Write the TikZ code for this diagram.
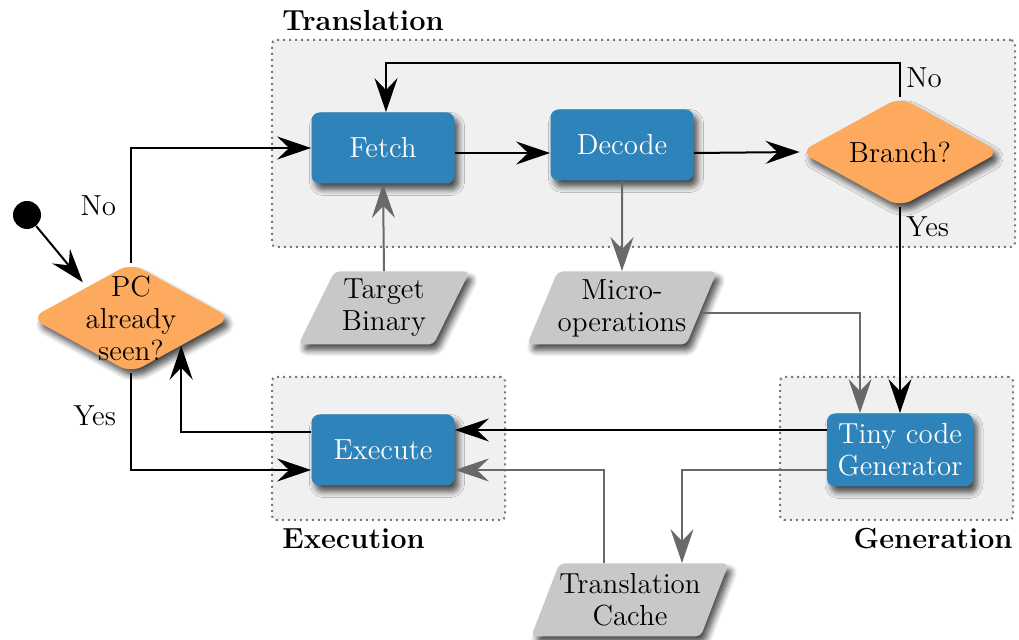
\documentclass[tikz,border=0pt]{standalone}
\usetikzlibrary{shapes.geometric,arrows.meta,shadows.blur}
\newlength\px \setlength\px{0.5pt}
\definecolor{procblue}{RGB}{46,131,186}
\definecolor{decorange}{RGB}{253,170,95}
\definecolor{datagray}{RGB}{200,200,200}
\definecolor{groupfill}{RGB}{240,240,240}
\definecolor{groupline}{RGB}{120,120,120}
\definecolor{garrow}{RGB}{105,105,105}
\tikzset{
  shad/.style={blur shadow={shadow xshift=4\px, shadow yshift=-6\px, shadow blur radius=6\px, shadow blur steps=6, shadow opacity=70}},
  proc/.style={shape=rectangle, rounded corners=8\px, fill=procblue, text=white, align=center,
     minimum width=143\px, minimum height=71\px, inner sep=0pt, shad},
  dec/.style={shape=diamond, aspect=2, rounded corners=13\px, fill=decorange, inner sep=0pt,
     minimum width=200\px, minimum height=110\px, shad},
  dat/.style={shape=trapezium, trapezium left angle=62, trapezium right angle=118, trapezium stretches=true,
     rounded corners=5\px, fill=datagray, align=center, inner sep=0pt, minimum height=73\px, shad},
  grp/.style={shape=rectangle, draw=groupline, dotted, line width=1pt, fill=groupfill, rounded corners=4\px, inner sep=0pt},
  glabel/.style={font=\fontsize{14.5}{16}\selectfont\bfseries, inner sep=0pt},
  tip/.style={-{Stealth[length=17pt, width=11.5pt, inset=6pt]}},
  arr/.style={draw=black, line width=1pt, tip},
  garr/.style={draw=garrow, line width=1pt, tip},
  lbl/.style={inner sep=0pt}
}
\begin{document}
\begin{tikzpicture}[x=0.5pt, y=-0.5pt, font=\fontsize{14.5}{16}\selectfont]
\useasboundingbox (0,0) rectangle (1019,640);

% group boxes
\node[grp, minimum width=743\px, minimum height=207\px] (gtrans) at (643.5,143.5) {};
\node[grp, minimum width=233\px, minimum height=143\px] (gexec) at (388.5,448.5) {};
\node[grp, minimum width=233\px, minimum height=143\px] (ggen) at (896.5,448.5) {};
\node[glabel, anchor=west] (ltrans) at (282,21) {Translation};
\node[glabel, anchor=west] (lexec) at (282,539) {Execution};
\node[glabel, anchor=east] (lgen) at (1013,539) {Generation};

% start
\node[circle, fill=black, minimum size=28\px, inner sep=0pt] (start) at (27,215) {};

% decisions
\node[dec] (pc) at (131,318) {};
\node[align=center, inner sep=0pt] (pctext) at (131,318) {PC\\already\\seen?};
\node[dec] (branch) at (900,152) {Branch?};

% processes
\node[proc] (fetch) at (383,148) {Fetch};
\node[proc] (decode) at (622,145) {Decode};
\node[proc] (execute) at (383,450) {Execute};
\node[proc, minimum width=146\px, minimum height=73\px] (tiny) at (900,450) {Tiny code\\Generator};

% data
\node[dat, minimum width=172\px] (target) at (384,308) {Target\\Binary};
\node[dat, minimum width=175\px] (micro) at (622,308) {Micro-\\operations};
\node[dat, minimum width=190\px] (cache) at (630,600) {Translation\\Cache};

% connectors
\draw[arr] (start) -- ([xshift=2\px,yshift=8\px]pc.north west);
\draw[arr] (pc.north) |- (fetch.west) node[lbl, pos=0.25, left=14\px] {No};
\draw[arr] (pc.south) |- ([yshift=-20\px]execute.west) node[lbl, pos=0.22, left=14\px] {Yes};
\draw[arr] ([yshift=18\px]execute.west) -| (pc.south east);
\draw[arr] ([yshift=-5\px]fetch.east) -- ([yshift=-8\px]decode.west);
\draw[arr] ([yshift=-8\px]decode.east) -- (branch.west);
\draw[arr] (branch.north) -- ++(0,-34) coordinate (bn) -| ([xshift=3\px]fetch.north);
\node[lbl, anchor=west] (nolbl) at (906,78) {No};
\draw[arr] (branch.south) -- (tiny.north);
\node[lbl, anchor=west] (yeslbl) at (906,227) {Yes};
\draw[garr] (target.north) -- (fetch.south);
\draw[garr] (decode.south) -- (micro.north);
\draw[garr] ([yshift=-5\px]micro.east) -| ([xshift=-40\px]tiny.north);
\draw[arr] ([yshift=20\px]tiny.west) -- ([yshift=20\px]execute.east);
\draw[garr] ([yshift=-20\px]tiny.west) -| ([xshift=52\px]cache.north);
\draw[garr] ([xshift=-26\px]cache.north) |- ([yshift=-20\px]execute.east);
\end{tikzpicture}
\end{document}
